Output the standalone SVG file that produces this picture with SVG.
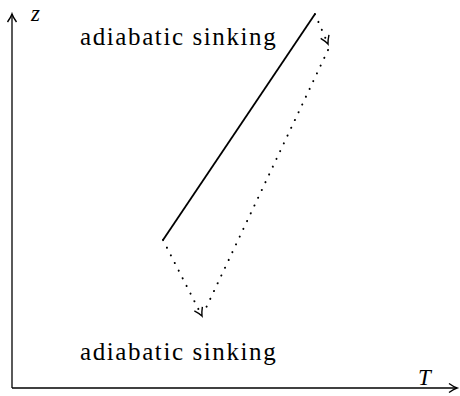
<svg xmlns="http://www.w3.org/2000/svg" width="460" height="396" viewBox="0 0 460 396">
<style>
.lbl{font-family:"Liberation Serif",serif;font-size:25px;letter-spacing:1.6px;fill:#000}
.var{font-family:"Liberation Serif",serif;font-style:italic;font-size:23px;fill:#000}
.ax{stroke:#000;stroke-width:1.3;fill:none}
.sol{stroke:#000;stroke-width:1.8;fill:none}
.dot{stroke:#000;stroke-width:2;fill:none;stroke-dasharray:0.1 8.5;stroke-linecap:round}
</style>
<defs>
<marker id="ah" markerWidth="12" markerHeight="12" refX="9" refY="6" orient="auto" markerUnits="userSpaceOnUse">
<path d="M1,1.5 Q6,5 9,6 Q6,7 1,10.5" fill="none" stroke="#000" stroke-width="1.4"/>
</marker>
</defs>
<g id="axes">
<line class="ax" x1="12" y1="388" x2="12" y2="14" marker-end="url(#ah)"/>
<line class="ax" x1="12" y1="388" x2="457" y2="388" marker-end="url(#ah)"/>
<text class="var" x="31" y="21">z</text>
<text class="var" x="418" y="385">T</text>
</g>
<g id="connectors">
<line class="sol" x1="163" y1="240" x2="315" y2="14"/>
<line class="dot" x1="315" y1="14" x2="328" y2="44" marker-end="url(#ah)"/>
<line class="dot" x1="328" y1="50" x2="205" y2="310"/>
<line class="dot" x1="163" y1="240" x2="202" y2="316" marker-end="url(#ah)"/>
</g>
<g id="label-top"><text class="lbl" x="80" y="45">adiabatic sinking</text></g>
<g id="label-bottom"><text class="lbl" x="80" y="360">adiabatic sinking</text></g>
</svg>
